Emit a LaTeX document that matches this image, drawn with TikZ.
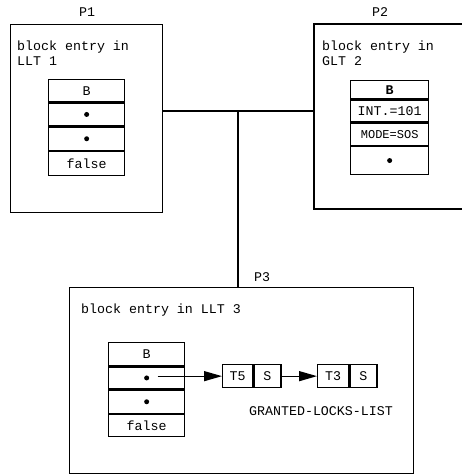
\documentclass[tikz,border=0pt]{standalone}
\usepackage{fontspec}
\setmonofont{Liberation Mono}
\usetikzlibrary{arrows.meta}
\begin{document}
\begin{tikzpicture}[x=1pt,y=-1pt,
  every node/.style={font=\ttfamily\fontsize{13.3}{15}\selectfont, inner sep=0pt},
  frame/.style={draw, line width=1.3pt},
  cell/.style={draw, line width=1.3pt, minimum width=76pt, anchor=north west},
  pair/.style={draw, line width=1.3pt, minimum height=23pt, anchor=north west},
  link/.style={line width=1.3pt},
  ptr/.style={line width=1.3pt, -{Triangle[length=18pt,width=10pt]}},
  blob/.style={circle, fill, inner sep=0pt, minimum size=5pt}]
\useasboundingbox (0,0) rectangle (462,476);

% process frames
\node[frame, minimum width=152pt, minimum height=188pt, anchor=north west] (p1) at (10,24) {};
\draw[frame] (463,24) -- (314,24) coordinate (p2nw) -- (314,209) -- (463,209);
\coordinate (p2w) at (314,111);
\node[frame, minimum width=344pt, minimum height=186pt, anchor=north west] (p3) at (69,287) {};

% process labels
\node (l1) at (87,12) {P1};
\node (l2) at (380,12) {P2};
\node (l3) at (262,277) {P3};

% network links
\coordinate (p1e) at (162,111);
\coordinate (hub) at (238,111);
\draw[link] (p1e) -- (p2w);
\draw[link] (hub) -- (hub |- p3.north);

% captions
\node[anchor=west] (t1a) at (17,47) {block entry in};
\node[anchor=west] (t1b) at (17,61) {LLT 1};
\node[anchor=west] (t2a) at (322,47) {block entry in};
\node[anchor=west] (t2b) at (322,61) {GLT 2};
\node[anchor=west] (t3a) at (81,310) {block entry in LLT 3};

% LLT 1 entry
\node[cell, minimum height=22pt] (a1) at (48,79) {B};
\node[cell, minimum height=23pt] (a2) at (a1.south west) {};
\node[cell, minimum height=23pt] (a3) at (a2.south west) {};
\node[cell, minimum height=24pt] (a4) at (a3.south west) {false};
\node[blob] (a2d) at (a2.center) {};
\node[blob] (a3d) at (a3.center) {};

% GLT 2 entry
\node[cell, minimum width=78pt, minimum height=18pt] (b1) at (350,80) {\bfseries B};
\node[cell, minimum width=78pt, minimum height=22pt] (b2) at (b1.south west) {INT.=101};
\node[cell, minimum width=78pt, minimum height=22pt] (b3) at (b2.south west) {\fontsize{12}{13}\selectfont MODE=SOS};
\node[cell, minimum width=78pt, minimum height=28pt] (b4) at (b3.south west) {};
\node[blob] (b4d) at (b4.center) {};

% LLT 3 entry
\node[cell, minimum height=23pt] (c1) at (108,342) {B};
\node[cell, minimum height=22pt] (c2) at (c1.south west) {};
\node[cell, minimum height=23pt] (c3) at (c2.south west) {};
\node[cell, minimum height=22pt] (c4) at (c3.south west) {false};
\node[blob] (c2d) at (c2.center) {};
\node[blob] (c3d) at (c3.center) {};

% granted locks list
\node[pair, minimum width=30pt] (g1) at (222,364) {T5};
\node[pair, minimum width=27pt] (g1s) at (g1.north east) {S};
\node[pair, minimum width=31pt] (g2) at (317,364) {T3};
\node[pair, minimum width=27pt] (g2s) at (g2.north east) {S};
\node (gl) at (321,411) {GRANTED-LOCKS-LIST};

\draw[ptr] ([xshift=11pt]c2d.center |- g1.west) -- (g1.west);
\draw[ptr] (g1s.east) -- (g2.west);
\end{tikzpicture}
\end{document}
